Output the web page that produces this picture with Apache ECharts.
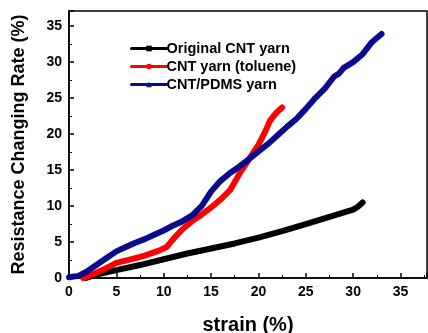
<!DOCTYPE html>
<html>
<head>
<meta charset="utf-8">
<script src="https://cdn.jsdelivr.net/npm/echarts@6/dist/echarts.min.js"></script>
<style>
html,body{margin:0;padding:0;background:#fff;}
#main{width:428px;height:333px;}
</style>
</head>
<body>
<div id="main"></div>
<script>
// 数据: [strain, resistance changing rate]
var originalCnt = [[1.8,0],[3,0.5],[5,1.1],[7.5,1.8],[10,2.6],[12.5,3.4],[15,4.1],[17.5,4.8],[20,5.6],[22.5,6.5],[25,7.5],[27.5,8.5],[30,9.5],[30.5,9.9],[31,10.5]];
var cntToluene = [[1.5,0],[2.5,0.5],[3.5,1.1],[5,2.1],[6.5,2.6],[8,3.1],[9.5,3.8],[10.3,4.3],[11,5.4],[12,6.8],[13,7.9],[14,8.8],[15,9.8],[16,10.9],[17,12.2],[18,14.5],[19,16.5],[20,18.5],[20.7,20.3],[21.2,21.8],[21.6,22.5],[22,23.1],[22.5,23.7]];
var cntPdms = [[0,0.1],[1,0.3],[2,1],[3,1.9],[4,2.8],[5,3.7],[6,4.3],[7,4.9],[8,5.4],[9,6],[10,6.6],[11,7.3],[12,7.9],[13,8.7],[14,10],[15,12],[16,13.5],[17,14.6],[18,15.5],[19,16.5],[20,17.6],[21,18.6],[22,19.8],[23,21],[24,22.1],[25,23.5],[26,25],[27,26.3],[28,28],[28.5,28.4],[29,29.2],[30,30],[31,31.1],[32,32.8],[33,33.9]];
var seriesNames = ['Original CNT yarn','CNT yarn (toluene)','CNT/PDMS yarn'];

var myChart = echarts.init(document.getElementById('main'));
var font = 'Liberation Sans, Arial, sans-serif';

function axisStyle() {
	return {
		axisLine: {show: true, lineStyle: {color: '#000', width: 1.5}},
		axisTick: {show: true, inside: true, length: 5, lineStyle: {color: '#000', width: 1.5}},
		minorTick: {show: true, splitNumber: 2, length: 3, lineStyle: {color: '#000', width: 1}},
		splitLine: {show: false},
		axisLabel: {color: '#000', fontSize: 14, fontWeight: 'bold', fontFamily: font}
	};
}

var xAxis = Object.assign(axisStyle(), {
	type: 'value', min: 0, max: 37.8, interval: 5,
	name: 'strain (%)', nameLocation: 'middle', nameGap: 37,
	nameTextStyle: {color: '#000', fontSize: 20, fontWeight: 'bold', fontFamily: font}
});
xAxis.axisLabel.margin = 7;
xAxis.axisLabel.showMaxLabel = false;

var yAxis = Object.assign(axisStyle(), {
	type: 'value', min: 0, max: 37.1, interval: 5,
	name: 'Resistance Changing Rate (%)', nameLocation: 'middle', nameGap: 41,
	nameTextStyle: {color: '#000', fontSize: 18, fontWeight: 'bold', fontFamily: font}
});
yAxis.axisLabel.margin = 7;
yAxis.axisLabel.showMaxLabel = false;

function lineSeries(name, data, color, symbol) {
	return {
		name: name, type: 'line', data: data,
		symbol: symbol, symbolSize: 6, showSymbol: false,
		lineStyle: {color: color, width: 6, join: 'round', cap: 'round'},
		itemStyle: {color: color}
	};
}

var option = {
	animation: false,
	grid: {left: 69, top: 11, right: 1, bottom: 55, outerBoundsMode: 'none', show: true, borderColor: '#000', borderWidth: 1.5},
	legend: {
		left: 125, top: 36, orient: 'vertical',
		itemWidth: 35, itemHeight: 7, itemGap: 3,
		lineStyle: {width: 3},
		textStyle: {color: '#000', fontSize: 14.5, fontWeight: 'bold', fontFamily: font, padding: [0,0,0,-5]},
		data: seriesNames
	},
	xAxis: xAxis,
	yAxis: yAxis,
	series: [
		lineSeries(seriesNames[0], originalCnt, '#000000', 'rect'),
		lineSeries(seriesNames[1], cntToluene, '#ff0000', 'circle'),
		lineSeries(seriesNames[2], cntPdms, '#0a0a8c', 'triangle')
	]
};
myChart.setOption(option);
</script>
</body>
</html>
